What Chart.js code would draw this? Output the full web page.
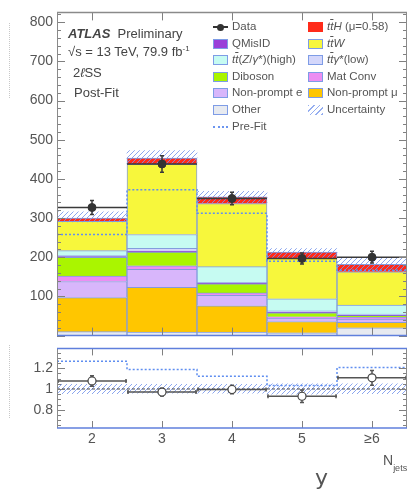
<!DOCTYPE html>
<html>
<head>
<meta charset="utf-8">
<title>2lSS post-fit Njets</title>
<script src="https://cdn.jsdelivr.net/npm/chart.js@4.4.1/dist/chart.umd.min.js"></script>
<style>
  body { margin: 0; background: #fff; }
  #wrap { position: relative; width: 414px; height: 498px; overflow: hidden; font-family: "Liberation Sans", Arial, sans-serif; color: #555; }
  canvas { position: absolute; left: 0; }
  #mainChart { top: 0; }
  #ratioChart { top: 336px; }
  .lbl { position: absolute; white-space: nowrap; line-height: 1; }
  .row { position: absolute; height: 12px; display: flex; align-items: center; font-size: 11.5px; white-space: nowrap; line-height: 1; }
  .sw { box-sizing: border-box; width: 15px; height: 10px; border: 1px solid #7e9ce6; margin-right: 4px; flex: none; }
  .mk { position: relative; width: 15px; height: 10px; margin-right: 4px; flex: none; }
  .ob { text-decoration: overline; }
  .dots { position: absolute; left: 9px; width: 0; border-left: 1px dotted #c8c8c8; }
</style>
</head>
<body>
<div id="wrap">
  <canvas id="mainChart" width="414" height="348"></canvas>
  <canvas id="ratioChart" width="414" height="162"></canvas>

  <div class="dots" style="top:23px;height:75px"></div>
  <div class="dots" style="top:345px;height:73px"></div>

  <div class="lbl" style="left:68px;top:27px;font-size:13px;color:#444"><b><i>ATLAS</i></b>&nbsp; Preliminary</div>
  <div class="lbl" style="left:68px;top:45px;font-size:13px;color:#444">√s = 13 TeV, 79.9 fb<sup style="font-size:8px;vertical-align:5px">-1</sup></div>
  <div class="lbl" style="left:73px;top:66px;font-size:13px;color:#444">2<i>ℓ</i>SS</div>
  <div class="lbl" style="left:74px;top:86px;font-size:13px;color:#444">Post-Fit</div>

  <div class="row" style="left:213px;top:21px"><span class="mk"><span style="position:absolute;left:0;top:4px;width:15px;height:2px;background:#333"></span><span style="position:absolute;left:4px;top:1.5px;width:7px;height:7px;border-radius:50%;background:#333"></span></span>Data</div>
  <div class="row" style="left:213px;top:37.5px"><span class="sw" style="background:#9a3fd8"></span>QMisID</div>
  <div class="row" style="left:213px;top:54px"><span class="sw" style="background:#c6fbf2"></span><i>t</i><i class="ob">t</i>(<i>Z</i>/<i>γ</i>*)(high)</div>
  <div class="row" style="left:213px;top:70.5px"><span class="sw" style="background:#aaf500"></span>Diboson</div>
  <div class="row" style="left:213px;top:87px"><span class="sw" style="background:#d8b6fb"></span>Non-prompt e</div>
  <div class="row" style="left:213px;top:104px"><span class="sw" style="background:#e7eaf0"></span>Other</div>
  <div class="row" style="left:213px;top:121px"><span class="mk"><span style="position:absolute;left:0;top:4px;width:15px;border-top:2px dotted #6b95f0"></span></span>Pre-Fit</div>

  <div class="row" style="left:308px;top:21px"><span class="sw" style="background:#ff2b1a;border-color:#ff2b1a"></span><i>t</i><i class="ob">t</i><i>H</i>&nbsp;(μ=0.58)</div>
  <div class="row" style="left:308px;top:37.5px"><span class="sw" style="background:#f7f73c"></span><i>t</i><i class="ob">t</i><i>W</i></div>
  <div class="row" style="left:308px;top:54px"><span class="sw" style="background:#d4d7fb"></span><i>t</i><i class="ob">t</i><i>γ</i>*(low)</div>
  <div class="row" style="left:308px;top:70.5px"><span class="sw" style="background:#ec8ef2"></span>Mat Conv</div>
  <div class="row" style="left:308px;top:87px"><span class="sw" style="background:#ffc600"></span>Non-prompt μ</div>
  <div class="row" style="left:308px;top:104px"><span class="sw" style="border:none;background:repeating-linear-gradient(135deg,#95aef0 0 1px,transparent 1px 4px)"></span>Uncertainty</div>

  <div class="lbl" style="left:383px;top:453px;font-size:14px">N<span style="font-size:9px;position:relative;top:6px">jets</span></div>
  <div class="lbl" style="left:315px;top:467px;font-size:22px;font-family:'DejaVu Sans',sans-serif;color:#555">y</div>
</div>

<script>
// bins of the jet multiplicity, last one is the overflow bin
const bins = [2, 3, 4, 5, 6];
const binLabels = ['2', '3', '4', '5', '≥6'];
const yTicks = [100, 200, 300, 400, 500, 600, 700, 800];
const ratioTicks = [0.8, 1, 1.2];

// post-fit stack, bottom to top
const other = [10, 9, 9, 7, 20];
const nonPromptMu = [87, 114, 67, 29, 14];
const nonPromptE = [41, 46, 27, 9, 8];
const matConv = [14, 9, 6, 3, 5];
const diboson = [48, 35, 23, 10, 4];
const qMisId = [2, 3, 2, 2, 2];
const ttGammaLow = [2, 7, 2, 3, 2];
const ttZHigh = [13, 35, 40, 31, 23];
const ttW = [75, 179, 161, 103, 85];
const ttH = [8, 16, 17, 16, 19];

const dataValues = [327, 438, 350, 197, 200];
const dataErrors = [18, 21, 16, 14, 15];
const preFit = [258, 372, 312, 190, 167];
const uncLow = [290, 437, 338, 197, 163];
const uncHigh = [316, 472, 368, 222, 198];

// lower panel
const ratioValues = [1.077, 0.97, 0.995, 0.93, 1.107];
const ratioErrors = [0.05, 0.037, 0.04, 0.06, 0.07];
const ratioPreFit = [1.267, 1.187, 1.122, 1.033, 1.207];
const ratioUncLow = [0.955, 0.96, 0.96, 0.95, 0.955];
const ratioUncHigh = [1.045, 1.045, 1.045, 1.05, 1.05];
const ratioRef = 1;

const edges = bins.map((b) => b - 0.5).concat([bins[bins.length - 1] + 0.5]);
const asPoints = (vals) => bins.map((b, i) => ({ x: b, y: vals[i] }));
const asSteps = (vals) => edges.map((e, i) => ({ x: e, y: vals[Math.min(i, vals.length - 1)] }));
const asRange = (lo, hi) => bins.map((b, i) => ({ x: b, y: [lo[i], hi[i]] }));

Chart.defaults.font.family = '"Liberation Sans", Arial, sans-serif';
Chart.defaults.color = '#555';

function makeHatch(color) {
  const c = document.createElement('canvas');
  c.width = 5;
  c.height = 5;
  const g = c.getContext('2d');
  g.strokeStyle = color;
  g.lineWidth = 1;
  g.beginPath();
  g.moveTo(0, 5); g.lineTo(5, 0);
  g.moveTo(-1, 1); g.lineTo(1, -1);
  g.moveTo(4, 6); g.lineTo(6, 4);
  g.stroke();
  return g.createPattern(c, 'repeat');
}
const hatch = makeHatch('rgba(120,150,236,0.85)');

// axis frame with inward ticks, like the ROOT style
const frame = {
  id: 'frame',
  afterDraw(chart, args, o) {
    const { ctx, chartArea: a, scales } = chart;
    const xs = scales.x;
    const ys = scales.y;
    ctx.save();
    ctx.strokeStyle = '#808080';
    ctx.lineWidth = 1;
    ctx.beginPath();
    const k0 = Math.ceil(ys.min / o.minor - 1e-6);
    const k1 = Math.floor(ys.max / o.minor + 1e-6);
    for (let k = k0; k <= k1; k++) {
      const v = k * o.minor;
      const major = Math.abs(v / o.major - Math.round(v / o.major)) < 1e-6;
      const len = major ? 8 : 4;
      const py = Math.round(ys.getPixelForValue(v)) + 0.5;
      ctx.moveTo(a.left, py); ctx.lineTo(a.left + len, py);
      ctx.moveTo(a.right, py); ctx.lineTo(a.right - len, py);
    }
    bins.forEach((b) => {
      const px = Math.round(xs.getPixelForValue(b)) + 0.5;
      ctx.moveTo(px, a.top); ctx.lineTo(px, a.top + o.xLen);
      ctx.moveTo(px, a.bottom); ctx.lineTo(px, a.bottom - o.xLen);
    });
    ctx.stroke();

    ctx.strokeStyle = '#8a8a8a';
    ctx.beginPath();
    ctx.moveTo(a.left + 0.5, a.top); ctx.lineTo(a.left + 0.5, a.bottom);
    ctx.moveTo(a.right - 0.5, a.top); ctx.lineTo(a.right - 0.5, a.bottom);
    ctx.stroke();

    ctx.lineWidth = 1.5;
    ctx.strokeStyle = o.topColor;
    ctx.beginPath();
    ctx.moveTo(a.left, a.top); ctx.lineTo(a.right, a.top);
    ctx.stroke();
    ctx.strokeStyle = o.bottomColor;
    ctx.beginPath();
    ctx.moveTo(a.left, a.bottom); ctx.lineTo(a.right, a.bottom);
    ctx.stroke();
    ctx.restore();
  }
};

// error bars drawn just before their markers
const errorBars = {
  id: 'errorBars',
  beforeDatasetDraw(chart, args) {
    const ds = chart.data.datasets[args.index];
    if (!ds.errors) return;
    const xs = chart.scales.x;
    const ys = chart.scales[ds.yAxisID || 'y'];
    const ctx = chart.ctx;
    ctx.save();
    ctx.strokeStyle = ds.errorColor;
    ctx.lineWidth = 1.5;
    ctx.beginPath();
    ds.data.forEach((p, i) => {
      const px = xs.getPixelForValue(p.x);
      const left = xs.getPixelForValue(p.x - 0.5);
      const right = xs.getPixelForValue(p.x + 0.5);
      const py = ys.getPixelForValue(p.y);
      const lo = ys.getPixelForValue(p.y - ds.errors[i]);
      const hi = ys.getPixelForValue(p.y + ds.errors[i]);
      ctx.moveTo(left, py); ctx.lineTo(right, py);
      ctx.moveTo(px, lo); ctx.lineTo(px, hi);
      ctx.moveTo(px - 2, lo); ctx.lineTo(px + 2, lo);
      ctx.moveTo(px - 2, hi); ctx.lineTo(px + 2, hi);
      if (ds.edgeCaps) {
        ctx.moveTo(left + 1, py - 2); ctx.lineTo(left + 1, py + 2);
        ctx.moveTo(right - 1, py - 2); ctx.lineTo(right - 1, py + 2);
      }
    });
    ctx.stroke();
    ctx.restore();
  }
};

function histo(label, values, color) {
  return {
    type: 'bar',
    label,
    data: asPoints(values),
    yAxisID: 'y',
    order: 3,
    backgroundColor: color,
    borderColor: 'rgba(110,140,215,0.85)',
    borderWidth: 1,
    barPercentage: 1,
    categoryPercentage: 1
  };
}

const setBinTicks = (axis) => { axis.ticks = bins.map((value) => ({ value })); };
const binLabel = (v) => binLabels[bins.indexOf(v)] || '';

new Chart(document.getElementById('mainChart'), {
  type: 'bar',
  data: {
    datasets: [
      {
        type: 'line', label: 'Data', data: asPoints(dataValues), yAxisID: 'y2', order: 0,
        showLine: false, pointRadius: 4, pointBackgroundColor: '#333', pointBorderColor: '#333',
        errors: dataErrors, errorColor: '#3a3a3a'
      },
      {
        type: 'bar', label: 'Uncertainty', data: asRange(uncLow, uncHigh), yAxisID: 'y2', order: 1,
        backgroundColor: hatch, borderWidth: 0, grouped: false, barPercentage: 1, categoryPercentage: 1
      },
      {
        type: 'line', label: 'Pre-Fit', data: asSteps(preFit), yAxisID: 'y2', order: 2,
        stepped: 'before', borderColor: '#5f8ef0', borderWidth: 1.5, borderDash: [2, 2],
        pointRadius: 0, fill: false
      },
      histo('Other', other, '#e7eaf0'),
      histo('Non-prompt μ', nonPromptMu, '#ffc600'),
      histo('Non-prompt e', nonPromptE, '#d8b6fb'),
      histo('Mat Conv', matConv, '#ec8ef2'),
      histo('Diboson', diboson, '#aaf500'),
      histo('QMisID', qMisId, '#9a3fd8'),
      histo('ttγ*(low)', ttGammaLow, '#d4d7fb'),
      histo('tt(Z/γ*)(high)', ttZHigh, '#c6fbf2'),
      histo('ttW', ttW, '#f7f73c'),
      histo('ttH', ttH, '#ff2b1a')
    ]
  },
  options: {
    responsive: false,
    animation: false,
    layout: { padding: { top: 12, right: 7, bottom: 6, left: 0 }, autoPadding: false },
    plugins: {
      legend: { display: false },
      tooltip: { enabled: false },
      frame: { minor: 20, major: 100, xLen: 8, topColor: '#8a8a8a', bottomColor: '#5f7fdc' }
    },
    scales: {
      x: {
        type: 'linear', min: edges[0], max: edges[edges.length - 1], offset: false,
        stacked: true, display: false, afterBuildTicks: setBinTicks
      },
      y: {
        stacked: true, min: 0, max: 825,
        grid: { display: false, drawTicks: false }, border: { display: false },
        afterBuildTicks: (axis) => { axis.ticks = yTicks.map((value) => ({ value })); },
        ticks: { font: { size: 14 }, color: '#555', padding: 4, callback: (v) => String(v) },
        afterFit: (s) => { s.width = 57; }
      },
      y2: { display: false, min: 0, max: 825 }
    }
  },
  plugins: [errorBars, frame]
});

new Chart(document.getElementById('ratioChart'), {
  type: 'bar',
  data: {
    datasets: [
      {
        type: 'line', label: 'Data / Pred.', data: asPoints(ratioValues), order: 0,
        showLine: false, pointRadius: 4, pointBackgroundColor: '#fff', pointBorderColor: '#444',
        pointBorderWidth: 1.2, errors: ratioErrors, errorColor: '#555', edgeCaps: true
      },
      {
        type: 'line', label: 'ref', data: [{ x: edges[0], y: ratioRef }, { x: edges[edges.length - 1], y: ratioRef }],
        order: 1, borderColor: '#444', borderWidth: 1, borderDash: [3, 2], pointRadius: 0
      },
      {
        type: 'line', label: 'Pre-Fit', data: asSteps(ratioPreFit), order: 2,
        stepped: 'before', borderColor: '#5f8ef0', borderWidth: 1.5, borderDash: [2, 2],
        pointRadius: 0, fill: false
      },
      {
        type: 'bar', label: 'Uncertainty', data: asRange(ratioUncLow, ratioUncHigh), order: 3,
        backgroundColor: hatch, borderWidth: 0, grouped: false, barPercentage: 1, categoryPercentage: 1
      }
    ]
  },
  options: {
    responsive: false,
    animation: false,
    layout: { padding: { top: 6, right: 7, bottom: 0, left: 0 }, autoPadding: false },
    plugins: {
      legend: { display: false },
      tooltip: { enabled: false },
      frame: { minor: 0.05, major: 0.2, xLen: 7, topColor: '#5f7fdc', bottomColor: '#5f7fdc' }
    },
    scales: {
      x: {
        type: 'linear', min: edges[0], max: edges[edges.length - 1], offset: false,
        grid: { display: false, drawTicks: false }, border: { display: false },
        afterBuildTicks: setBinTicks,
        ticks: { font: { size: 14 }, color: '#555', padding: 3, callback: binLabel, maxRotation: 0, autoSkip: false },
        afterFit: (s) => { s.height = 70; }
      },
      y: {
        min: 0.625, max: 1.39,
        grid: { display: false, drawTicks: false }, border: { display: false },
        afterBuildTicks: (axis) => { axis.ticks = ratioTicks.map((value) => ({ value })); },
        ticks: { font: { size: 14 }, color: '#555', padding: 4, callback: (v) => String(v) },
        afterFit: (s) => { s.width = 57; }
      }
    }
  },
  plugins: [errorBars, frame]
});
</script>
</body>
</html>
